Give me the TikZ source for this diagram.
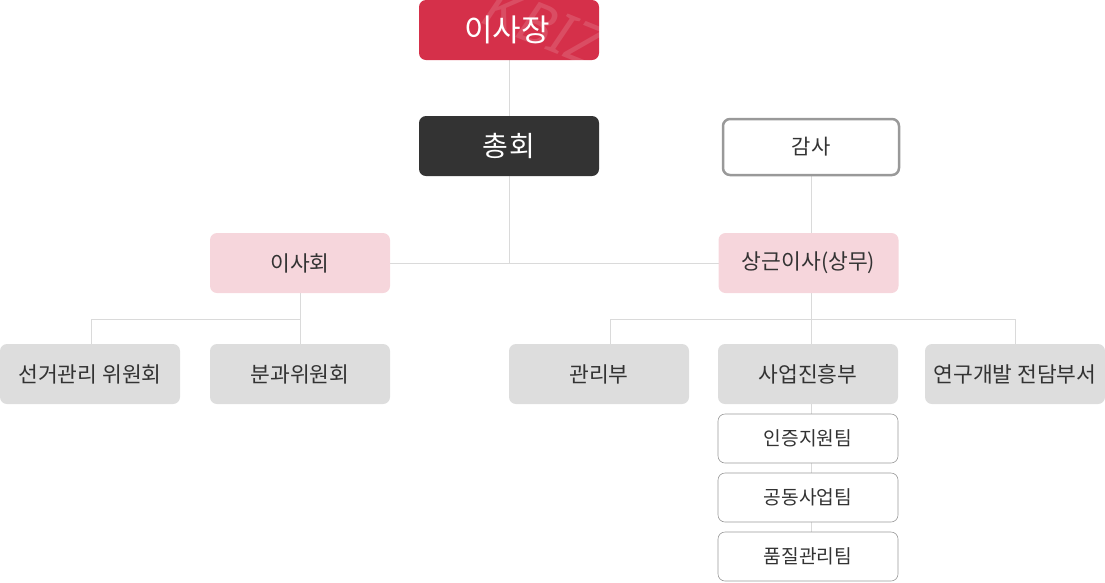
\documentclass[tikz,border=0pt]{standalone}
\usepackage{fontspec}
\setmainfont{Noto Sans CJK KR}
\newfontfamily\wmfont{Noto Sans}
\definecolor{headred}{HTML}{D5304A}
\definecolor{darkbox}{HTML}{333333}
\definecolor{pinkbox}{HTML}{F6D6DC}
\definecolor{greybox}{HTML}{DDDDDD}
\definecolor{textgrey}{HTML}{333333}
\definecolor{edgegrey}{HTML}{999999}
\definecolor{linkgrey}{HTML}{DADADA}
\begin{document}
\begin{tikzpicture}[x=1pt,y=-1pt,
  box/.style={rounded corners=7pt,minimum width=180pt,minimum height=60pt,
    inner sep=0pt,text=textgrey,font=\fontsize{21.5}{25}\selectfont},
  headbox/.style={box,fill=headred},
  meetbox/.style={box,fill=darkbox,text=white,font=\fontsize{28}{32}\selectfont},
  auditbox/.style={box,draw=edgegrey,line width=2.5pt,fill=white,
    minimum width=176pt,minimum height=56pt,font=\fontsize{21}{25}\selectfont},
  boardbox/.style={box,fill=pinkbox},
  deptbox/.style={box,fill=greybox},
  teambox/.style={box,draw=edgegrey,line width=0.6pt,fill=white,
    minimum height=49pt,font=\fontsize{19.2}{23}\selectfont},
  link/.style={draw=linkgrey,line width=0.8pt}]
\useasboundingbox (0,0) rectangle (1105,582);
% links behind the boxes
\coordinate (jl) at (300,319);
\coordinate (jr) at (811,319);
\draw[link] (509,30) -- (509,263) -- (300,263) (509,263) -- (811,263);
\draw[link] (811,147) -- (811,263);
\draw[link] (300,263) -- (jl) -| (91,374) (jl) -- (300,374);
\draw[link] (811,263) -- (jr) -| (610,374) (jr) -| (1015,374);
\draw[link] (811,319) -- (811,556);
% boxes
\node[headbox] (chair) at (509,30) {};
\begin{scope}
\clip[rounded corners=7pt] (419,0) rectangle (599,60);
\node[rotate=-22,text=white,opacity=0.14,
  font=\wmfont\fontsize{58}{58}\selectfont\bfseries\itshape]
  (mark) at (543,26) {K\hspace{4pt}BIZ};
\end{scope}
\node[text=white,font=\fontsize{31}{36}\selectfont] (chairtxt) at (507,30) {이사장};
\node[meetbox] (meet) at (509,146) {총\hspace{2pt}회\hspace{4pt}};
\node[auditbox] (audit) at (811,147) {감사};
\node[boardbox] (board) at (300,263) {이사회};
\node[boardbox] (exec) at (808.5,263) {상근이사(상무)};
\node[deptbox] (elect) at (90,374) {선거관리 위원회};
\node[deptbox] (sub) at (300,374) {분과위원회};
\node[deptbox] (admin) at (599,374) {관리부};
\node[deptbox] (promo) at (808,374) {사업진흥부};
\node[deptbox] (rnd) at (1015,374) {연구개발 전담부서};
\node[teambox] (cert) at (808,438.5) {인증지원팀};
\node[teambox] (joint) at (808,497.5) {공동사업팀};
\node[teambox] (qual) at (808,556.5) {품질관리팀};
\end{tikzpicture}
\end{document}
